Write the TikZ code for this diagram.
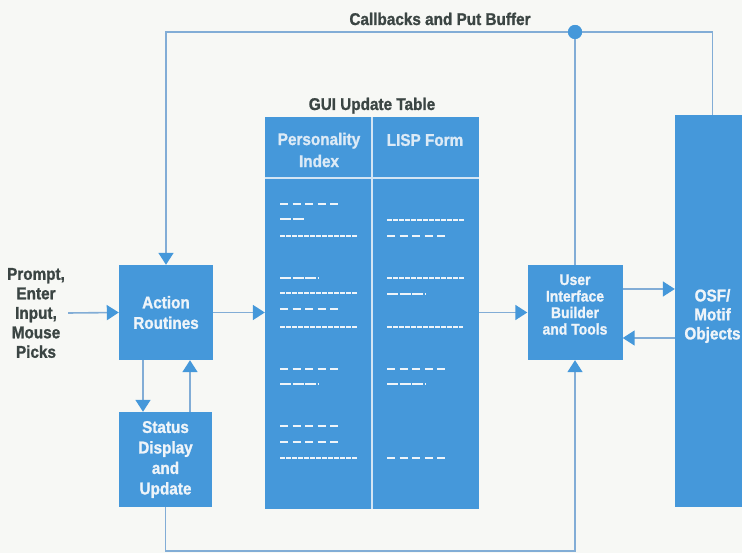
\documentclass[tikz,border=0pt]{standalone}
\usepackage{fontspec}
\setmainfont{Liberation Sans}[FakeStretch=0.9, BoldFeatures={FakeBold=1.2}]
\usetikzlibrary{arrows.meta,calc}
\definecolor{boxblue}{HTML}{4598DA}
\definecolor{linecol}{HTML}{82ADD6}
\definecolor{txtlight}{HTML}{EEF4F9}
\definecolor{hdrtxt}{HTML}{DCEAF6}
\definecolor{labeldark}{HTML}{3B4543}
\definecolor{bgcol}{HTML}{F7F8F5}
\definecolor{divcol}{HTML}{D3E5F4}
\tikzset{
  box/.style={rectangle, fill=boxblue, draw=none, inner sep=0pt, align=center,
    text=txtlight, font=\bfseries\fontsize{17}{20.5}\selectfont},
  lbl/.style={align=center, text=labeldark, inner sep=3pt, font=\bfseries\fontsize{17}{19.5}\selectfont},
  hdr/.style={align=center, text=hdrtxt, inner sep=0pt, font=\bfseries\fontsize{17}{22}\selectfont},
  conn/.style={draw=linecol, line width=1.6pt},
  arr/.style={conn, -{Triangle[length=12pt, width=15pt, color=boxblue, fill=boxblue]}},
  dshA/.style={draw=txtlight, line width=1.8pt, dash pattern=on 8pt off 4.5pt},
  dshB/.style={draw=txtlight, line width=1.8pt, dash pattern=on 11pt off 1.5pt},
  dshC/.style={draw=txtlight, line width=1.8pt, dash pattern=on 4.5pt off 1.5pt},
  divline/.style={draw=divcol, line width=2.2pt}
}
\begin{document}
\begin{tikzpicture}[x=1pt, y=-1pt]
\useasboundingbox (0,0) rectangle (742,553);
\fill[bgcol] (0,0) rectangle (742,553);
\clip (0,0) rectangle (742,553);

% labels
\node[lbl, anchor=base] (cbl) at (440,25) {Callbacks and Put Buffer};
\node[lbl, anchor=base] (gui) at (372,110) {GUI Update Table};
\node[lbl] (prompt) at (36,313) {Prompt,\\Enter\\Input,\\Mouse\\Picks};

% boxes
\node[box, minimum width=94pt, minimum height=95pt] (act) at (166,312.5) {Action\\Routines};
\node[box, minimum width=93pt, minimum height=95pt] (stat) at (165.5,459.5) {Status\\Display\\and\\Update};
\node[box, minimum width=95pt, minimum height=95pt,
  label={[text=txtlight, align=center, yshift=8pt, font=\bfseries\fontsize{15.5}{16.5}\selectfont]center:User\\Interface\\Builder\\and Tools}] (uib) at (575,312.5) {};
\node[box, minimum width=75pt, minimum height=392pt,
  label={[text=txtlight, align=center, yshift=-5pt, font=\bfseries\fontsize{17}{19}\selectfont]center:OSF/\\Motif\\Objects}] (osf) at (712.5,311) {};

% table
\node[box, minimum width=214pt, minimum height=392pt] (tbl) at (372,313) {};
\draw[divline] (tbl.west |- 0,178) -- (tbl.east |- 0,178);
\draw[divline, line width=2.6pt] (tbl.north) -- (tbl.south);
\node[hdr] (pidx) at (319,150) {Personality\\Index};
\node[hdr] (lisp) at (425,140) {LISP Form};

% dashes, left column
\foreach \y/\l/\s in {204/58/dshA, 219/25/dshB, 236/78/dshC,
                      278/38/dshB, 293/78/dshC, 309/58/dshA, 327/78/dshC,
                      369/58/dshA, 384/38/dshB,
                      426/58/dshA, 442/58/dshA, 458/78/dshC}
  \draw[\s] (280,\y) -- ++(\l,0);
% dashes, right column
\foreach \y/\l/\s in {220/78/dshC, 236/58/dshA,
                      278/78/dshC, 294/38/dshB, 327/76/dshC,
                      369/58/dshA, 384/38/dshB,
                      458/58/dshA}
  \draw[\s] (387,\y) -- ++(\l,0);

% dot
\node[circle, fill=boxblue, minimum size=14pt, inner sep=0pt] (dot) at (575,32) {};

% connectors
\draw[arr] (osf.north) |- (dot.center) -| (act.north);
\node[circle, fill=boxblue, minimum size=14pt, inner sep=0pt] at (dot) {};
\draw[conn] (dot.south) -- (uib.north);
\draw[arr] (prompt.east) -- (act.west);
\draw[arr] (act.east) -- (tbl.west |- act.east);
\draw[arr] (tbl.east |- uib.west) -- (uib.west);
\draw[arr] ([yshift=23.5pt]uib.east) -- ([yshift=23.5pt]uib.east -| osf.west);
\draw[arr] ([yshift=-25.5pt]uib.east -| osf.west) -- ([yshift=-25.5pt]uib.east);
\draw[arr] ([xshift=-23pt]act.south) -- ([xshift=-23pt]act.south |- stat.north);
\draw[arr] ([xshift=24pt]act.south |- stat.north) -- ([xshift=24pt]act.south);
\coordinate (botL) at (166,551);
\draw[arr] (stat.south) -- (stat.south |- botL) -| (uib.south);
\end{tikzpicture}
\end{document}
